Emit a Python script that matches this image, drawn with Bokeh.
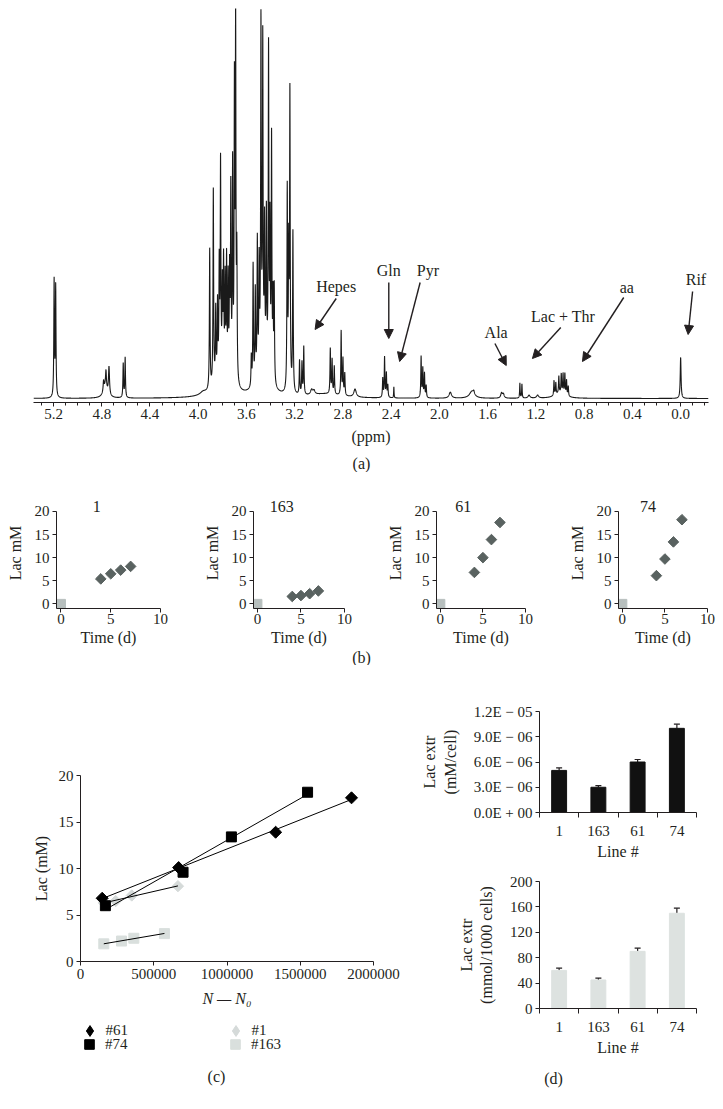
import numpy as np
from bokeh.plotting import figure
from bokeh.models import (Range1d, FixedTicker, CustomJSTickFormatter, PrintfTickFormatter,
                          Arrow, NormalHead, TeeHead, Whisker, ColumnDataSource, Label,
                          Legend, LegendItem)
from bokeh.layouts import column, row
from bokeh.embed import file_html
from bokeh.resources import INLINE
from bokeh.core.properties import value

FONT = "Liberation Serif"
INK = "#231f20"

# ---------------- (a) 1H NMR spectrum: peak table ----------------
peak_ppm = [5.195, 5.182, 4.785, 4.77, 4.765, 4.74, 4.622, 4.606, 3.96,
            3.905, 3.875, 3.855, 3.84, 3.826, 3.815, 3.80, 3.79, 3.777, 3.765, 3.752, 3.74,
            3.73, 3.715, 3.70, 3.69, 3.68, 3.80,
            3.56, 3.545, 3.527, 3.51, 3.495, 3.48, 3.465, 3.45, 3.435, 3.417, 3.405, 3.392,
            3.38, 3.37, 3.46,
            3.262, 3.25, 3.24, 3.215, 3.16, 3.14, 3.125, 3.06, 3.04, 2.95,
            2.905, 2.89, 2.872, 2.815, 2.80, 2.785, 2.70,
            2.47, 2.455, 2.44, 2.428, 2.378, 2.152, 2.138, 2.124, 2.11,
            1.91, 1.73, 1.715, 1.485, 1.47, 1.333, 1.316, 1.257, 1.186,
            1.05, 1.035, 1.01, 0.99, 0.975, 0.96, 0.946, 0.932, 1.0, 0.0]
peak_height = [116, 110, 10, 12, 16, 28, 34, 40, 3,
               140, 195, 70, 72, 105, 205, 80, 105, 90, 112, 95, 100,
               185, 210, 285, 355, 120, 25,
               30, 120, 90, 135, 105, 340, 318, 135, 150, 322, 145, 238,
               80, 95, 30,
               200, 135, 295, 160, 34, 32, 48, 5, 4, 4,
               45, 34, 28, 64, 36, 22, 8,
               19, 40, 24, 12, 11, 41, 29, 24, 12,
               6, 7, 3, 5, 4, 15, 14, 3, 3,
               15, 12, 17, 19, 20, 21, 15, 10, 5, 41]
peak_hwhm = [0.003, 0.003, 0.004, 0.02, 0.004, 0.005, 0.003, 0.003, 0.03,
             0.003, 0.003, 0.003, 0.003, 0.003, 0.003, 0.003, 0.003, 0.003, 0.003, 0.003, 0.003,
             0.003, 0.003, 0.003, 0.003, 0.003, 0.06,
             0.003, 0.003, 0.003, 0.003, 0.003, 0.003, 0.003, 0.003, 0.003, 0.003, 0.003, 0.003,
             0.003, 0.003, 0.05,
             0.003, 0.003, 0.003, 0.003, 0.003, 0.003, 0.003, 0.01, 0.01, 0.15,
             0.003, 0.003, 0.003, 0.003, 0.003, 0.003, 0.012,
             0.003, 0.003, 0.003, 0.003, 0.002, 0.003, 0.003, 0.003, 0.003,
             0.012, 0.025, 0.006, 0.008, 0.008, 0.0025, 0.0025, 0.01, 0.01,
             0.003, 0.003, 0.003, 0.003, 0.003, 0.003, 0.003, 0.003, 0.05, 0.004]

annot_text = ["Hepes", "Gln", "Pyr", "Ala", "Lac + Thr", "aa", "Rif"]
annot_x = [2.856, 2.42, 2.096, 1.53, 0.975, 0.446, -0.127]
annot_y = [112, 128, 128, 66, 82, 111, 119]
arrow_x0 = [2.856, 2.42, 2.16, 1.54, 0.994, 0.472, -0.099]
arrow_y0 = [100, 116, 116, 55, 71, 101, 107]
arrow_x1 = [3.031, 2.42, 2.33, 1.446, 1.229, 0.814, -0.062]
arrow_y1 = [69, 60, 37, 33, 40, 37, 64]

ppm_ticks = [0.0, 0.4, 0.8, 1.2, 1.6, 2.0, 2.4, 2.8, 3.2, 3.6, 4.0, 4.4, 4.8, 5.2]

# ---------------- (b) lactate vs time ----------------
days = [4, 5, 6, 7]
day0 = [0]
lac0 = [0]
lines_b = ["1", "163", "61", "74"]
lac_b = {
    "1": [5.4, 6.5, 7.3, 8.1],
    "163": [1.6, 1.8, 2.2, 2.8],
    "61": [6.8, 10.0, 13.9, 17.6],
    "74": [6.1, 9.7, 13.4, 18.2],
}

# ---------------- (c) lactate vs N - N0 ----------------
c61_x = [148000, 670000, 1332000, 1850000]
c61_y = [6.8, 10.1, 13.9, 17.6]
c74_x = [170000, 700000, 1030000, 1550000]
c74_y = [6.0, 9.6, 13.4, 18.2]
c1_x = [160000, 240000, 350000, 665000]
c1_y = [6.3, 6.5, 7.1, 8.1]
c163_x = [159000, 280000, 364000, 573000]
c163_y = [1.9, 2.2, 2.5, 3.0]

# ---------------- (d) extracellular lactate ----------------
lines_d = ["1", "163", "61", "74"]
lac_cell = [5.0e-6, 3.0e-6, 6.0e-6, 1.0e-5]
lac_cell_err = [0.3e-6, 0.2e-6, 0.3e-6, 0.5e-6]
lac_1000 = [60, 45, 90, 150]
lac_1000_err = [3.5, 2.8, 5.0, 8.0]


def base_fig(w, h, xr, yr, l, r, t, b, **kw):
    p = figure(width=w, height=h, x_range=xr, y_range=yr, output_backend="svg",
               toolbar_location=None, min_border_left=l, min_border_right=r,
               min_border_top=t, min_border_bottom=b, **kw)
    p.grid.visible = False
    p.outline_line_color = None
    p.background_fill_color = "white"
    p.border_fill_color = "white"
    return p


def blank_fig(w, h, l, r, x0, x1):
    # frame aligned with the panel above it; x range in page pixels of that frame
    return base_fig(w, h, Range1d(x0, x1), Range1d(0, h), l, r, 0, 0,
                    x_axis_location=None, y_axis_location=None)


def style_axis(ax, tick_size="15px", label_size="16px"):
    ax.axis_line_color = INK
    ax.axis_line_width = 1
    ax.major_tick_line_color = INK
    ax.minor_tick_line_color = INK
    ax.major_label_text_font = FONT
    ax.major_label_text_font_size = tick_size
    ax.major_label_text_color = INK
    ax.axis_label_text_font = FONT
    ax.axis_label_text_font_size = label_size
    ax.axis_label_text_font_style = "normal"
    ax.axis_label_text_color = INK
    ax.major_tick_in = 0
    ax.minor_tick_in = 0
    ax.minor_tick_out = 0
    ax.major_tick_out = 4


def add_caption(p, text, x, y):
    p.add_layout(Label(x=x, y=y, text=text, text_font=FONT, text_font_size="16px",
                       text_color=INK, text_align="center", text_baseline="middle"))


# ================= (a) =================
pa = base_fig(720, 454, Range1d(5.366, -0.231), Range1d(-4, 390), 33, 12, 8, 52,
              y_axis_location=None)
grid = np.union1d(np.linspace(5.366, -0.231, 7000), np.array(peak_ppm))
c = np.array(peak_ppm)[:, None]
h = np.array(peak_height)[:, None]
w = np.array(peak_hwhm)[:, None]
spec = (h / (1.0 + ((grid[None, :] - c) / w) ** 2)).sum(axis=0)
pa.line(grid, spec, line_color="#1a1a1a", line_width=1.1)

ax = pa.xaxis[0]
style_axis(ax)
ax.ticker = FixedTicker(ticks=ppm_ticks,
                        minor_ticks=[round(0.1 * i, 1) for i in range(-2, 54)])
ax.formatter = PrintfTickFormatter(format="%.1f")
ax.minor_tick_out = 3
ax.major_label_standoff = 2
ax.axis_label = "(ppm)"
ax.axis_label_standoff = 6

pa.text(x=annot_x, y=annot_y, text=annot_text, text_font=value(FONT),
        text_font_size="16px", text_color=INK, text_align="center", text_baseline="middle")
arr_src = ColumnDataSource(dict(x0=arrow_x0, y0=arrow_y0, x1=arrow_x1, y1=arrow_y1))
pa.add_layout(Arrow(source=arr_src, x_start="x0", y_start="y0", x_end="x1", y_end="y1",
                    line_color=INK, line_width=1.4,
                    end=NormalHead(size=9, fill_color=INK, line_color=INK)))
cap_a = blank_fig(720, 18, 33, 12, 33, 708)
add_caption(cap_a, "(a)", 361, 9)

# ================= (b) =================
b_layout = [  # (fig width, border left, border right, title x)
    (200, 56, 40, 3.6),
    (183, 40, 39, 2.8),
    (182, 38, 40, 2.7),
    (155, 38, 13, 3.0),
]
b_figs = []
for name, (fw, bl, br, tx) in zip(lines_b, b_layout):
    p = base_fig(fw, 176, Range1d(-0.45, 10), Range1d(-1.0, 23), bl, br, 25, 40)
    xa, ya = p.xaxis[0], p.yaxis[0]
    style_axis(xa)
    style_axis(ya)
    xa.bounds = (-0.45, 10)
    ya.bounds = (-1.0, 20)
    xa.ticker = FixedTicker(ticks=[0, 5, 10])
    ya.ticker = FixedTicker(ticks=[0, 5, 10, 15, 20])
    xa.axis_label = "Time (d)"
    ya.axis_label = "Lac mM"
    xa.major_label_standoff = 1
    xa.axis_label_standoff = 2
    ya.major_label_standoff = 3
    ya.axis_label_standoff = 8
    p.scatter(days, lac_b[name], marker="square", angle=np.pi / 4, size=7.5,
              color="#596260")
    p.scatter(day0, lac0, marker="square", size=9, color="#b7bfbe")
    p.text(x=[tx], y=[21.1], text=[name], text_font=value(FONT), text_font_size="16px",
           text_color=INK, text_align="center", text_baseline="middle")
    b_figs.append(p)
cap_b = blank_fig(720, 17, 33, 12, 33, 708)
add_caption(cap_b, "(b)", 361, 8.5)

# ================= (c) =================
pc = base_fig(401, 353, Range1d(0, 2_000_000), Range1d(0, 20), 80, 28, 110, 57)
style_axis(pc.xaxis[0])
style_axis(pc.yaxis[0])
pc.xaxis[0].ticker = FixedTicker(ticks=[0, 500000, 1000000, 1500000, 2000000])
pc.xaxis[0].formatter = PrintfTickFormatter(format="%d")
pc.yaxis[0].ticker = FixedTicker(ticks=[0, 5, 10, 15, 20])
pc.xaxis[0].axis_label = "N \u2014 N\u2080"
pc.xaxis[0].axis_label_text_font_style = "italic"
pc.xaxis[0].major_label_standoff = 3
pc.xaxis[0].axis_label_standoff = 8
pc.yaxis[0].axis_label = "Lac (mM)"
pc.yaxis[0].major_label_standoff = 3
pc.yaxis[0].axis_label_standoff = 6

C_LIGHT1 = "#d5dad9"
C_LIGHT2 = "#d9dfdd"
series_c = [
    ("#1", c1_x, c1_y, dict(marker="square", angle=np.pi / 4, size=8, color=C_LIGHT1)),
    ("#163", c163_x, c163_y, dict(marker="square", size=10, color=C_LIGHT2)),
    ("#61", c61_x, c61_y, dict(marker="square", angle=np.pi / 4, size=8.5, color="black")),
    ("#74", c74_x, c74_y, dict(marker="square", size=10, color="black")),
]
for _, xs, ys, st in series_c:
    pc.scatter(xs, ys, **st)
for _, xs, ys, _st in series_c:
    k, b0 = np.polyfit(xs, ys, 1)
    xe = [min(xs), max(xs)]
    pc.line(xe, [k * v + b0 for v in xe], line_color="black", line_width=1)

# key strip under (c): the same series, drawn off-range so that only the key shows
lf = blank_fig(401, 83, 80, 28, 80, 373)
key_style = {"#61": ("diamond", "black"), "#74": ("square", "black"),
             "#1": ("diamond", C_LIGHT1), "#163": ("square", C_LIGHT2)}
# (glyph box, legend x rel. to frame left, legend bottom, label standoff)
key_place = {"#61": (27, -4.5, 57.5, 3), "#74": (24, -3, 45, 4),
             "#1": (27, 141.5, 57.5, 3), "#163": (24, 143, 45, 4)}
for name, xs, ys, _st in series_c:
    mk, col = key_style[name]
    r = lf.scatter(xs, ys, marker=mk, size=10, color=col)
    box, lx, ly, so = key_place[name]
    lf.add_layout(Legend(items=[LegendItem(label=name, renderers=[r])],
                         location=(lx, ly), orientation="vertical", margin=0, padding=0,
                         spacing=0, glyph_width=box, glyph_height=box, label_height=14,
                         label_standoff=so, border_line_alpha=0, background_fill_alpha=0,
                         label_text_font=FONT, label_text_font_size="15px",
                         label_text_color=INK))
add_caption(lf, "(c)", 216, 25)

# ================= (d) =================
xpos = list(range(1, len(lines_d) + 1))
overrides = {i: s for i, s in zip(xpos, lines_d)}
sci_fmt = CustomJSTickFormatter(code="""
if (tick == 0) return "0.0E + 00";
const e = Math.floor(Math.log10(Math.abs(tick)) + 1e-9);
const m = tick / Math.pow(10, e);
const es = String(Math.abs(e)).padStart(2, "0");
return m.toFixed(1) + "E " + (e < 0 ? "\\u2212" : "+") + " " + es;
""")


def bar_panel(h, yr, vals, errs, color, l, r, t, b, yticks, ylabel, fmt=None):
    p = base_fig(319, h, Range1d(0.5, 4.5), yr, l, r, t, b)
    xa, ya = p.xaxis[0], p.yaxis[0]
    style_axis(xa)
    style_axis(ya)
    xa.ticker = FixedTicker(ticks=xpos, minor_ticks=[v - 0.5 for v in xpos] + [xpos[-1] + 0.5])
    xa.major_label_overrides = overrides
    xa.major_tick_out = 0
    xa.minor_tick_out = 5
    xa.major_label_standoff = 8
    xa.axis_label = "Line #"
    xa.axis_label_standoff = 4
    ya.ticker = FixedTicker(ticks=yticks)
    if fmt is not None:
        ya.formatter = fmt
    ya.major_label_standoff = 3
    ya.axis_label = ylabel
    ya.axis_label_standoff = 12
    src = ColumnDataSource(dict(x=xpos, top=vals, upper=[v + e for v, e in zip(vals, errs)]))
    p.vbar(x="x", top="top", width=0.38, color=color, source=src)
    p.add_layout(Whisker(source=src, base="x", lower="top", upper="upper",
                         lower_head=None, line_color=INK, line_width=1.2,
                         upper_head=TeeHead(size=6, line_color=INK, line_width=1.2)))
    return p


pd1 = bar_panel(197, Range1d(0, 1.2e-5), lac_cell, lac_cell_err, "#111111",
                138, 24, 46, 46, [0, 3e-6, 6e-6, 9e-6, 1.2e-5],
                "Lac extr\n(mM/cell)", sci_fmt)
pd2 = bar_panel(198, Range1d(0, 200), lac_1000, lac_1000_err, "#dde2e0",
                138, 24, 19, 52, [0, 40, 80, 120, 160, 200],
                "Lac extr\n(mmol/1000 cells)")
cap_d = blank_fig(319, 41, 138, 24, 539, 696)
add_caption(cap_d, "(d)", 553, 23)

layout = column(pa, cap_a, row(*b_figs), cap_b,
                row(column(pc, lf), column(pd1, pd2, cap_d)))
open("out.html", "w").write(file_html(layout, INLINE))
